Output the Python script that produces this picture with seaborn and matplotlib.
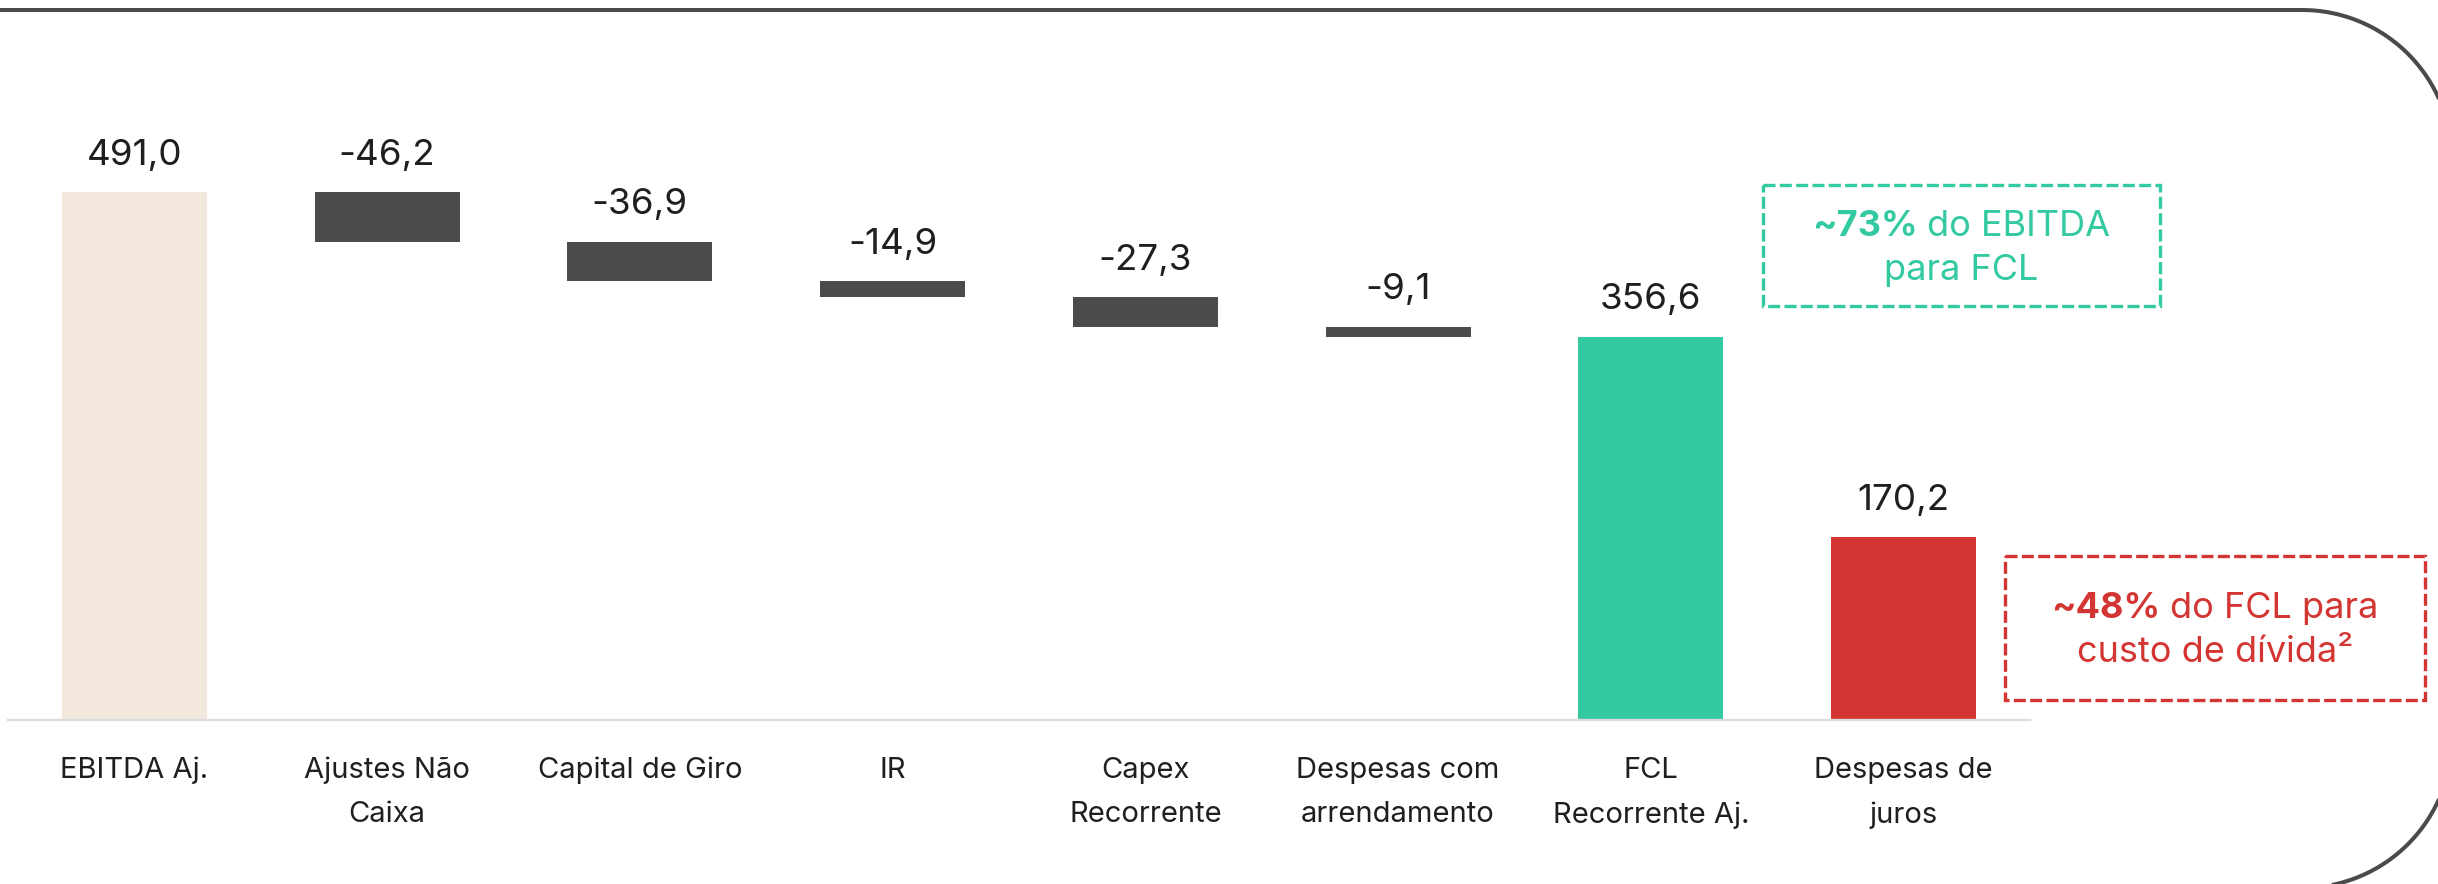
import numpy as np
import pandas as pd
import matplotlib
matplotlib.use("Agg")
import matplotlib.pyplot as plt
import seaborn as sns
from matplotlib.patches import Rectangle

# ---------------- data ----------------
categories = ["EBITDA Aj.", "Ajustes Não\nCaixa", "Capital de Giro", "IR",
              "Capex\nRecorrente", "Despesas com\narrendamento",
              "FCL\nRecorrente Aj.", "Despesas de\njuros"]
values = [491.0, -46.2, -36.9, -14.9, -27.3, -9.1, 356.6, 170.2]
bar_kind = ["total", "delta", "delta", "delta", "delta", "delta", "total", "total"]
bar_colors = ["#f2e8de", "#4b4b4b", "#4b4b4b", "#4b4b4b", "#4b4b4b", "#4b4b4b",
              "#33c9a1", "#d33532"]
green_note = ("~73%", "do EBITDA", "para FCL")
red_note = ("~48%", "do FCL para", "custo de dívida²")

# waterfall geometry from values
bottoms, heights = [], []
running = 0.0
for v, k in zip(values, bar_kind):
    if k == "total":
        bottoms.append(0.0)
        heights.append(v)
        running = v
    else:
        new = running + v
        bottoms.append(min(running, new))
        heights.append(abs(v))
        running = new
labels = [f"{v:.1f}".replace(".", ",") for v in values]

# ---------------- style ----------------
sns.set_style("white")
plt.rcParams["font.family"] = ["Inter", "DejaVu Sans"]
TXT = "#1f1f1f"
GREEN = "#33c9a1"
RED = "#d33532"

W, H = 2438, 884
fig = plt.figure(figsize=(W / 100, H / 100), dpi=100)
ax = fig.add_axes([8 / W, 164 / H, 2022 / W, 645.2 / H])

df = pd.DataFrame({"cat": categories, "h": heights})
sns.barplot(data=df, x="cat", y="h", hue="cat", palette=bar_colors, legend=False,
            width=0.574, saturation=1, linewidth=0, ax=ax)

patches = sorted(ax.patches, key=lambda p: p.get_x())
for p, b in zip(patches, bottoms):
    p.set_y(b)

ax.set_xlim(-0.5, len(categories) - 0.5)
ax.set_ylim(0, 600)
ax.set_xlabel("")
ax.set_ylabel("")
ax.set_yticks([])
for s in ["top", "right", "left"]:
    ax.spines[s].set_visible(False)
ax.spines["bottom"].set_color("#dddddd")
ax.spines["bottom"].set_linewidth(1.7)
ax.tick_params(axis="x", length=0, pad=26.5, labelsize=21, labelcolor=TXT)
for t in ax.get_xticklabels():
    t.set_linespacing(1.8)

for i, (b, h, lab) in enumerate(zip(bottoms, heights, labels)):
    ax.annotate(lab, (i, b + h), xytext=(0, 26.6), textcoords="offset points",
                ha="center", va="center", fontsize=26.5, color=TXT)

# ---------------- overlay (pixel coords) ----------------
ov = fig.add_axes([0, 0, 1, 1], zorder=3)
ov.set_xlim(0, W)
ov.set_ylim(H, 0)
ov.axis("off")
ov.patch.set_alpha(0)

# rounded frame (open on the left, bottom edge just below the figure)
R = 150
xr, yt, yb = 2452, 10, 888
th1 = np.linspace(np.pi / 2, 0, 60)
th2 = np.linspace(0, -np.pi / 2, 60)
fx = np.concatenate([[-20], (xr - R) + R * np.cos(th1), (xr - R) + R * np.cos(th2), [-20]])
fy = np.concatenate([[yt], (yt + R) - R * np.sin(th1), (yb - R) - R * np.sin(th2), [yb]])
ov.plot(fx, fy, color="#4a4a4a", lw=2.9, solid_capstyle="butt")

ov.add_patch(Rectangle((1763, 185), 397, 121, fill=False, ec=GREEN, lw=2.4,
                       ls=(0, (3.6, 1.3))))
ov.add_patch(Rectangle((2005, 556), 420, 144, fill=False, ec=RED, lw=2.4,
                       ls=(0, (3.6, 1.3))))

renderer = fig.canvas.get_renderer()


def mixed_line(cx, yb_, bold, regular, color, size):
    tb = ov.text(0, yb_, bold, fontsize=size, fontweight="bold", color=color,
                 ha="left", va="baseline")
    tr = ov.text(0, yb_, regular, fontsize=size, color=color,
                 ha="left", va="baseline")
    wb = tb.get_window_extent(renderer).width
    wr = tr.get_window_extent(renderer).width
    sp = size * 100 / 72 * 0.27
    x0 = cx - (wb + sp + wr) / 2
    tb.set_x(x0)
    tr.set_x(x0 + wb + sp)


NOTE_SIZE = 26
mixed_line(1961, 236, green_note[0], green_note[1], GREEN, NOTE_SIZE)
ov.text(1961, 280, green_note[2], fontsize=NOTE_SIZE, color=GREEN,
        ha="center", va="baseline")
mixed_line(2215, 618, red_note[0], red_note[1], RED, NOTE_SIZE)
ov.text(2215, 662, red_note[2], fontsize=NOTE_SIZE, color=RED,
        ha="center", va="baseline")

fig.savefig("out.png", dpi=100)
